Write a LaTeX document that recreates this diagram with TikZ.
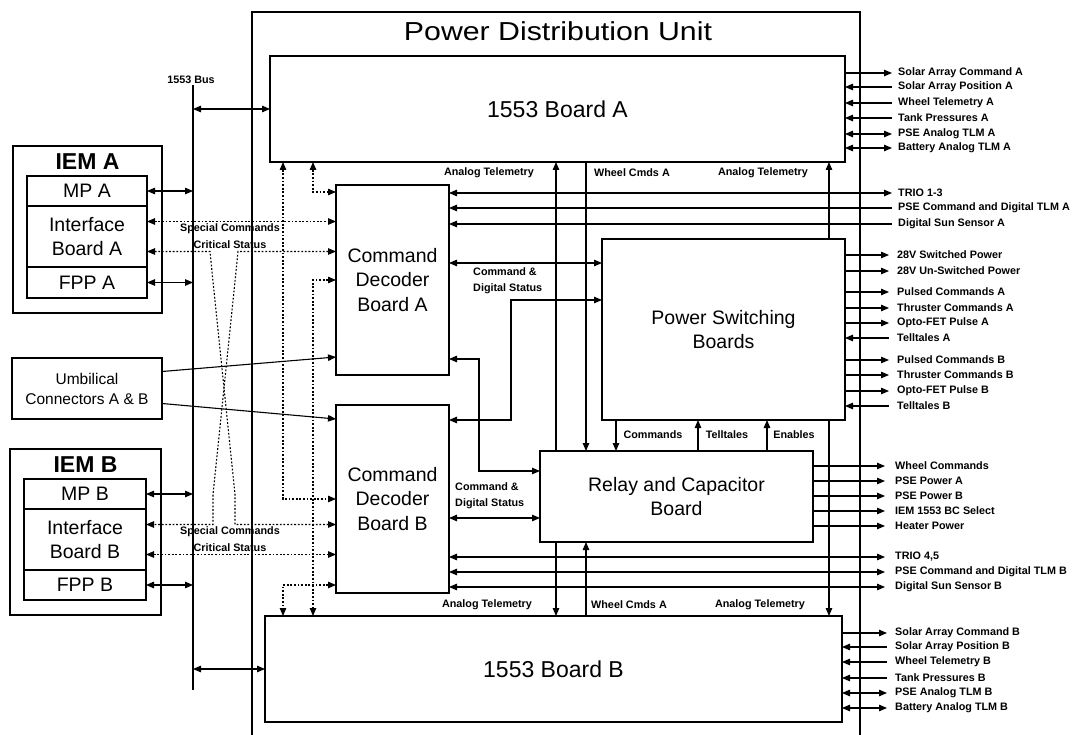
\documentclass[tikz,border=0pt]{standalone}
\usepackage{fontspec}
\setmainfont{Liberation Sans}
\newfontfamily\widefont[FakeStretch=1.165]{Liberation Sans}
\usetikzlibrary{arrows.meta, positioning}
\newcommand{\bigtxt}{\fontsize{19.5}{24.5}\selectfont}
\newcommand{\sigtxt}{\fontsize{10.8}{16}\selectfont\bfseries}
\tikzset{
  % Boxes
  unitbox/.style={draw, line width=1.1pt, align=center, inner sep=0pt, outer sep=0pt, font=\bigtxt},
  framebox/.style={draw, line width=1.1pt, inner sep=0pt, outer sep=0pt},
  titletext/.style={inner sep=0pt, font=\fontsize{23}{23}\selectfont\bfseries},
  % Labels
  siglabel/.style={font=\sigtxt, inner sep=0pt},
  % Pointers
  >={Triangle[length=8pt, width=6.5pt]},
  wire/.style={line width=1.1pt},
  sigout/.style={wire, ->},
  sigin/.style={wire, <-},
  sigboth/.style={wire, <->},
  dotwire/.style={wire, dash pattern=on 1.8pt off 1.8pt, <->},
}

\begin{document}
\begin{tikzpicture}[x=1pt, y=-1pt]
\useasboundingbox (0,0) rectangle (1074,735);

% PDU frame, open at the bottom
\draw[wire] (252,735) -- (252,12) -- (860,12) -- (860,735);
\node[inner sep=0pt, font=\widefont\fontsize{26}{26}\selectfont] (pdu) at (558,31) {Power Distribution Unit};

% Boards inside the PDU
\node[unitbox, minimum width=575pt, minimum height=106pt, font=\fontsize{23}{23}\selectfont] (brdA) at (557.5,109) {1553 Board A};
\node[unitbox, minimum width=577pt, minimum height=106pt, font=\fontsize{23}{23}\selectfont] (brdB) at (553.5,669) {1553 Board B};
\node[unitbox, minimum width=113pt, minimum height=190pt] (cdbA) at (392.5,280) {Command\\Decoder\\Board A};
\node[unitbox, minimum width=113pt, minimum height=188pt] (cdbB) at (392.5,499) {Command\\Decoder\\Board B};
\node[unitbox, minimum width=243pt, minimum height=181pt] (psb) at (723.5,329.5) {Power Switching\\Boards};
\node[unitbox, minimum width=273pt, minimum height=91pt] (relay) at (676.5,496.5) {Relay and Capacitor\\Board};

% IEM A
\node[framebox, minimum width=149pt, minimum height=167pt] (iemA) at (87.5,229.5) {};
\node[titletext, below=7pt of iemA.north] (iemAT) {IEM A};
\node[unitbox, minimum width=120pt, minimum height=30pt] (mpA) at (87,191) {MP A};
\node[unitbox, minimum width=120pt, minimum height=61pt, below=0pt of mpA] (ifA) {Interface\\Board A};
\node[unitbox, minimum width=120pt, minimum height=31pt, below=0pt of ifA] (fppA) {FPP A};

% IEM B
\node[framebox, minimum width=151pt, minimum height=166pt] (iemB) at (85.5,532) {};
\node[titletext, below=7pt of iemB.north] (iemBT) {IEM B};
\node[unitbox, minimum width=122pt, minimum height=30pt] (mpB) at (85,494) {MP B};
\node[unitbox, minimum width=122pt, minimum height=61pt, below=0pt of mpB] (ifB) {Interface\\Board B};
\node[unitbox, minimum width=122pt, minimum height=30pt, below=0pt of ifB] (fppB) {FPP B};

% Umbilical
\node[unitbox, minimum width=150pt, minimum height=61pt, font=\fontsize{15.5}{20}\selectfont] (umb) at (87,388.5) {Umbilical\\Connectors A \& B};

% 1553 bus
\coordinate (busT) at (193,85);
\coordinate (busB) at (193,690);
\draw[wire] (busT) -- (busB);
\node[siglabel, above=1pt of busT, xshift=-2pt] (busL) {1553 Bus};
\draw[sigboth] (brdA.west -| busT) -- (brdA.west);
\draw[sigboth] (brdB.west -| busT) -- (brdB.west);
\draw[sigboth] (mpA.east) -- (mpA.east -| busT);
\draw[sigboth] (fppA.east) -- (fppA.east -| busT);
\draw[sigboth] (mpB.east) -- (mpB.east -| busT);
\draw[sigboth] (fppB.east) -- (fppB.east -| busT);

% Interface boards to decoders (cross strapped)
\coordinate (scA) at ([yshift=15pt]ifA.east);
\coordinate (csA) at ([yshift=-15pt]ifA.east);
\coordinate (scB) at ([yshift=15pt]ifB.east);
\coordinate (csB) at ([yshift=-15pt]ifB.east);
\draw[dotwire] (scA) -- (scA -| cdbA.west);
\draw[dotwire] (csB) -- (csB -| cdbB.west);
\draw[dotwire] (csA) -- ++(63,0) -- ++(3,30) -- ++(22,213) |- (scB -| cdbB.west);
\draw[dotwire] (csA -| cdbA.west) -- ++(-98,0) -- ++(-3,30) -- ++(-22,213) |- (scB);
\node[siglabel] (scAL) at (230,229) {Special Commands};
\node[siglabel] (csAL) at (230,245) {Critical Status};
\node[siglabel] (scBL) at (230,532) {Special Commands};
\node[siglabel] (csBL) at (230,548) {Critical Status};

% 1553 boards to decoders
\coordinate (dvA) at (313,0);
\coordinate (dvB) at (283,0);
\draw[dotwire] (dvA |- brdA.south) |- ([yshift=88pt]cdbA.west);
\draw[dotwire] (dvB |- brdA.south) |- (cdbB.west);
\draw[dotwire] (cdbA.west) -| (dvA |- brdB.north);
\draw[dotwire] ([yshift=-86pt]cdbB.west) -| (dvB |- brdB.north);

% Umbilical to decoders
\draw[sigout] ([yshift=17pt]umb.east) -- ([yshift=-77pt]cdbA.west);
\draw[sigout] ([yshift=-15pt]umb.east) -- ([yshift=80pt]cdbB.west);

% Decoders to power switching and relay boards
\coordinate (cdsA) at ([yshift=66.5pt]psb.west);
\draw[sigboth] (cdsA -| cdbA.east) -- (cdsA);
\node[siglabel, align=left, anchor=north west] (cdsAL) at (473,267) {Command \&\\Digital Status};
\coordinate (cdbBr) at ([yshift=79pt]cdbB.east);
\coordinate (psbIn) at ([yshift=29.5pt]psb.west);
\coordinate (vC) at (511,0);
\draw[sigboth] (cdbBr) -| (vC |- psbIn) -- (psbIn);
\coordinate (cdbAr) at ([yshift=-79pt]cdbA.east);
\coordinate (rlIn) at ([yshift=25.5pt]relay.west);
\coordinate (vD) at (479,0);
\draw[sigboth] (cdbAr) -| (vD |- rlIn) -- (rlIn);
\coordinate (cdsB) at ([yshift=-21.5pt]relay.west);
\draw[sigboth] (cdsB -| cdbB.east) -- (cdsB);
\node[siglabel, align=left, anchor=north west] (cdsBL) at (455,482) {Command \&\\Digital Status};

% Vertical links between boards
\coordinate (atL) at (556,0);
\coordinate (wcA) at (586,0);
\coordinate (atR) at (829,0);
\coordinate (cmd) at (616,0);
\coordinate (tlt) at (698,0);
\coordinate (enb) at (767,0);
\draw[sigin] (atL |- brdA.south) -- (atL |- relay.north);
\draw[sigout] (atL |- relay.south) -- (atL |- brdB.north);
\draw[sigout] (wcA |- brdA.south) -- (wcA |- relay.north);
\draw[sigout] (wcA |- brdB.north) -- (wcA |- relay.south);
\draw[sigin] (atR |- brdA.south) -- (atR |- psb.north);
\draw[sigout] (atR |- psb.south) -- (atR |- brdB.north);
\draw[sigout] (cmd |- psb.south) -- (cmd |- relay.north);
\draw[sigin] (tlt |- psb.south) -- (tlt |- relay.north);
\draw[sigin] (enb |- psb.south) -- (enb |- relay.north);
\node[siglabel] (atLa) at (489,173) {Analog Telemetry};
\node[siglabel] (wcAa) at (632,173) {Wheel Cmds A};
\node[siglabel] (atRa) at (763,173) {Analog Telemetry};
\node[siglabel] (atLb) at (487,605) {Analog Telemetry};
\node[siglabel] (wcAb) at (629,605) {Wheel Cmds A};
\node[siglabel] (atRb) at (760,605) {Analog Telemetry};
\node[siglabel] (cmdL) at (653,435) {Commands};
\node[siglabel] (tltL) at (727,435) {Telltales};
\node[siglabel] (enbL) at (794,435) {Enables};

% External signals
\foreach \yy/\dir/\txt [count=\i] in {73/sigout/Solar Array Command A, 87/sigin/Solar Array Position A, 103/sigin/Wheel Telemetry A, 118/sigin/Tank Pressures A, 134/sigboth/PSE Analog TLM A, 148/sigboth/Battery Analog TLM A}{
  \coordinate (ea\i) at (892,\yy);
  \draw[\dir] (ea\i -| brdA.east) -- (ea\i);
  \node[siglabel, right=6pt of ea\i] (la\i) {\txt};
}
\foreach \yy/\dir/\txt [count=\i] in {193/sigboth/TRIO 1-3, 208/sigin/PSE Command and Digital TLM A, 224/sigin/Digital Sun Sensor A}{
  \coordinate (ec\i) at (892,\yy);
  \draw[\dir] (ec\i -| cdbA.east) -- (ec\i);
  \node[siglabel, right=6pt of ec\i] (lc\i) {\txt};
}
\foreach \yy/\dir/\txt [count=\i] in {255/sigout/28V Switched Power, 271/sigout/28V Un-Switched Power, 292/sigout/Pulsed Commands A, 308/sigout/Thruster Commands A, 323/sigout/Opto-FET Pulse A, 338/sigin/Telltales A, 360/sigout/Pulsed Commands B, 375/sigout/Thruster Commands B, 391/sigout/Opto-FET Pulse B, 406/sigin/Telltales B}{
  \coordinate (ep\i) at (889,\yy);
  \draw[\dir] (ep\i -| psb.east) -- (ep\i);
  \node[siglabel, right=8pt of ep\i] (lp\i) {\txt};
}
\foreach \yy/\txt [count=\i] in {466/Wheel Commands, 481/PSE Power A, 496/PSE Power B, 511/IEM 1553 BC Select, 526/Heater Power}{
  \coordinate (er\i) at (885,\yy);
  \draw[sigout] (er\i -| relay.east) -- (er\i);
  \node[siglabel, right=10pt of er\i] (lr\i) {\txt};
}
\foreach \yy/\txt [count=\i] in {557/{TRIO 4,5}, 572/PSE Command and Digital TLM B, 587/Digital Sun Sensor B}{
  \coordinate (ed\i) at (885,\yy);
  \draw[sigboth] (ed\i -| cdbB.east) -- (ed\i);
  \node[siglabel, right=10pt of ed\i] (ld\i) {\txt};
}
\foreach \yy/\dir/\txt [count=\i] in {633/sigout/Solar Array Command B, 647/sigin/Solar Array Position B, 662/sigin/Wheel Telemetry B, 678/sigin/Tank Pressures B, 693/sigboth/PSE Analog TLM B, 708/sigboth/Battery Analog TLM B}{
  \coordinate (eb\i) at (887,\yy);
  \draw[\dir] (eb\i -| brdB.east) -- (eb\i);
  \node[siglabel, right=8pt of eb\i] (lb\i) {\txt};
}

\end{tikzpicture}
\end{document}
